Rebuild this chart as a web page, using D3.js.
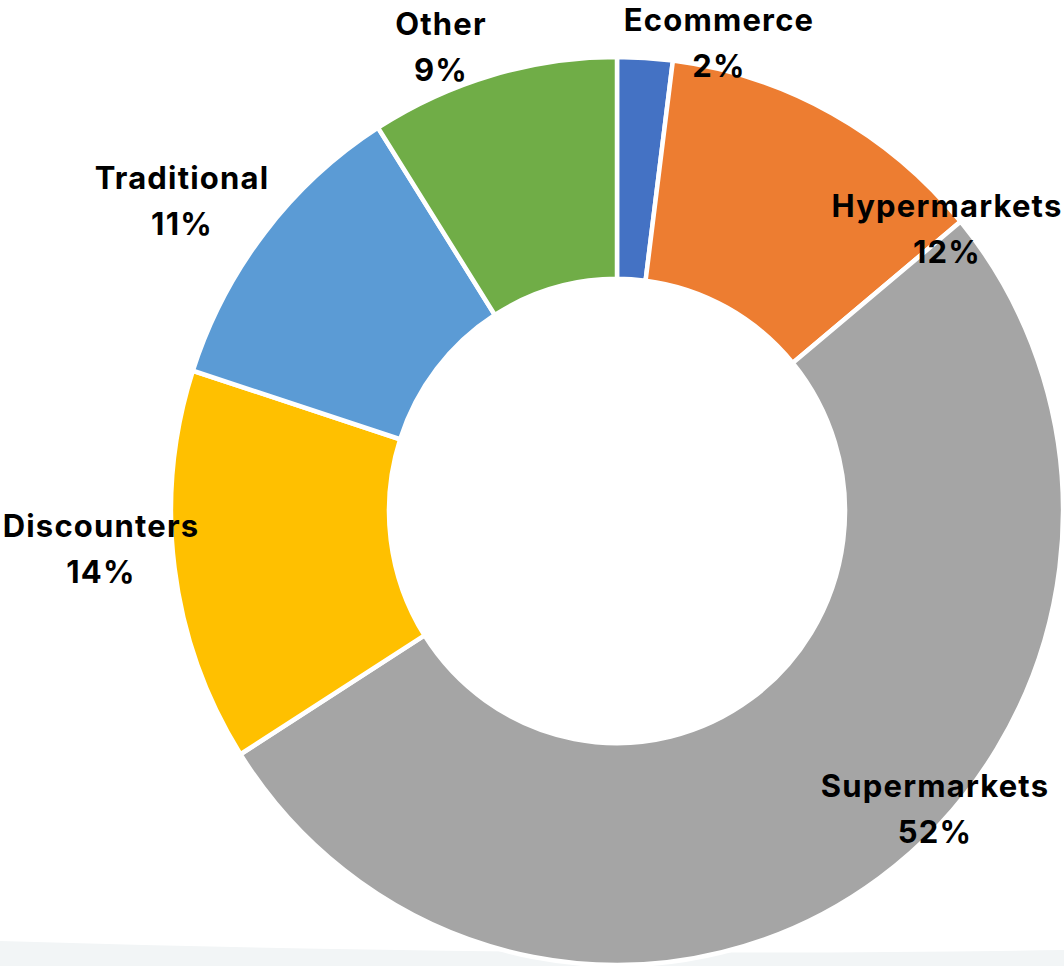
<!DOCTYPE html>
<html>
<head>
<meta charset="utf-8">
<script src="https://cdn.jsdelivr.net/npm/d3@7/dist/d3.min.js"></script>
<style>
  html, body { margin: 0; padding: 0; background: #ffffff; }
  svg { display: block; }
</style>
</head>
<body>
<div id="chart"></div>
<script>
// Retail channel share (%)
const categories = ["Ecommerce", "Hypermarkets", "Supermarkets", "Discounters", "Traditional", "Other"];
const shares = [2, 12, 52, 14, 11, 9];
const colors = ["#4472C4", "#ED7D31", "#A5A5A5", "#FFC000", "#5B9BD5", "#70AD47"];

const width = 1064, height = 966;
const cx = 617, cy = 511;
const outerR = 446, innerR = 228;

// Hand-placed label anchors: centre x and first-line baseline
const labelAnchors = {
  "Ecommerce":    [719, 31],
  "Hypermarkets": [947, 217],
  "Supermarkets": [935, 797],
  "Discounters":  [101, 537],
  "Traditional":  [182, 189],
  "Other":        [441, 35]
};

const svg = d3.select("#chart").append("svg")
  .attr("width", width)
  .attr("height", height);

// pale ground strip along the bottom edge
svg.append("path")
  .attr("d", `M0,941 Q560,958 1064,950 L1064,${height} L0,${height} Z`)
  .attr("fill", "#f2f5f6");

const data = categories.map((c, i) => ({ name: c, value: shares[i], color: colors[i] }));

const pie = d3.pie()
  .value(d => d.value)
  .sort(null)
  .startAngle(0)
  .endAngle(2 * Math.PI);

const arc = d3.arc()
  .innerRadius(innerR)
  .outerRadius(outerR);

const ring = svg.append("g")
  .attr("transform", `translate(${cx},${cy}) scale(1,1.018)`);

ring.selectAll("path")
  .data(pie(data))
  .join("path")
  .attr("d", arc)
  .attr("fill", d => d.data.color)
  .attr("stroke", "#ffffff")
  .attr("stroke-width", 4.5)
  .attr("stroke-linejoin", "miter");

const labels = svg.append("g")
  .attr("font-family", "Inter, 'Open Sans', sans-serif")
  .attr("font-weight", 700)
  .attr("font-size", 31)
  .attr("letter-spacing", 1.2)
  .attr("fill", "#000000")
  .attr("text-anchor", "middle");

data.forEach(d => {
  const [x, y] = labelAnchors[d.name];
  const t = labels.append("text").attr("x", x).attr("y", y);
  t.append("tspan").attr("x", x).attr("dy", 0).text(d.name);
  t.append("tspan").attr("x", x).attr("dy", 46).text(d3.format(".0f")(d.value) + "%");
});
</script>
</body>
</html>
